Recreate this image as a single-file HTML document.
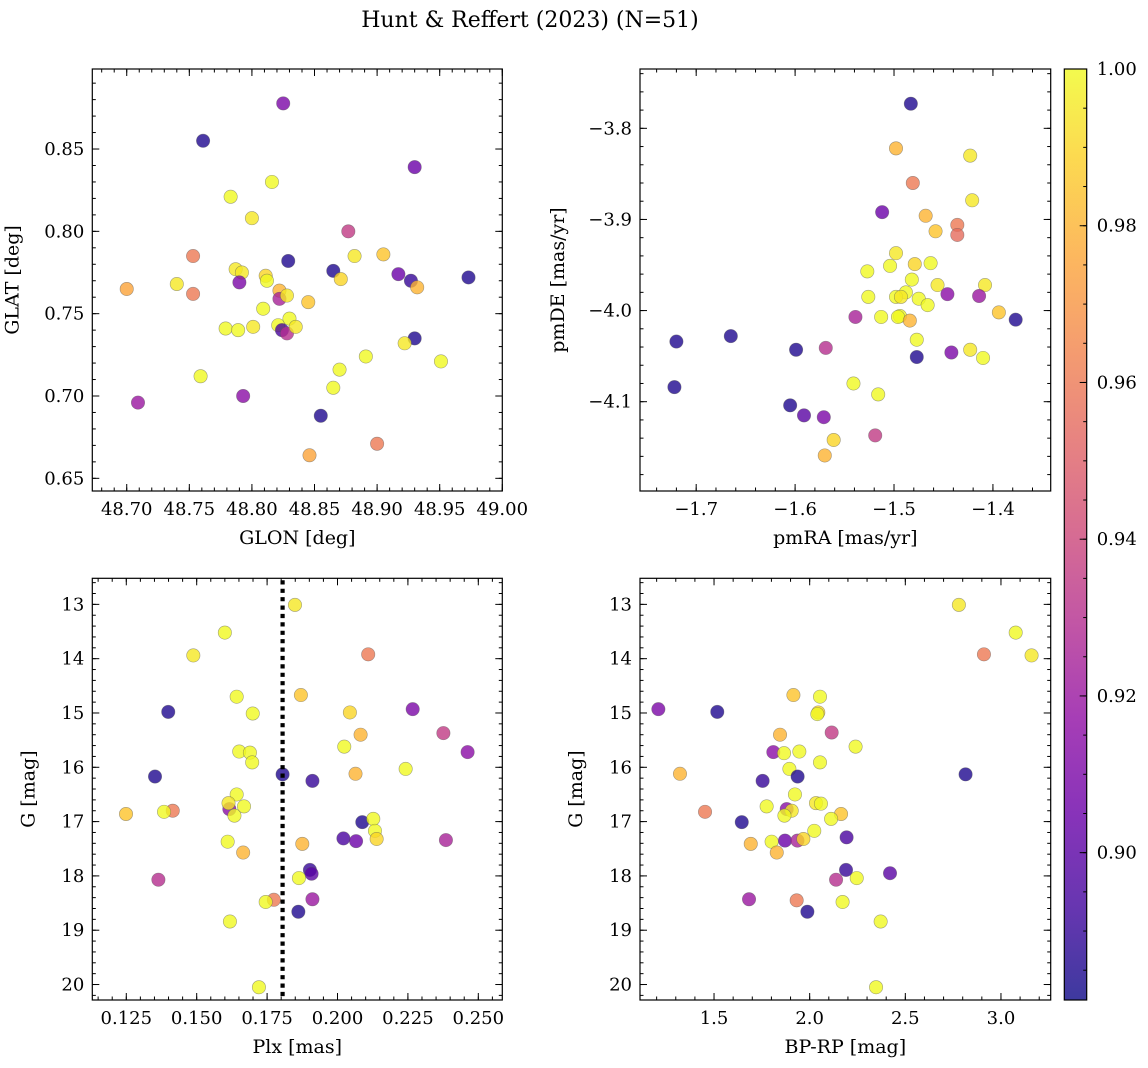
<!DOCTYPE html>
<html><head><meta charset="utf-8"><style>
html,body{margin:0;padding:0;background:#fff;}
svg{display:block;font-family:"DejaVu Serif","Liberation Serif",serif;}
</style></head><body>
<svg id="fig" width="1148" height="1068" viewBox="0 0 1148 1068" xmlns="http://www.w3.org/2000/svg">
<defs>
<linearGradient id="plasma" x1="0" y1="1" x2="0" y2="0">
<stop offset="0" stop-color="#0d0887"/><stop offset="0.1" stop-color="#41049d"/><stop offset="0.2" stop-color="#6a00a8"/><stop offset="0.3" stop-color="#8f0da4"/><stop offset="0.4" stop-color="#b12a90"/><stop offset="0.5" stop-color="#cc4778"/><stop offset="0.6" stop-color="#e16462"/><stop offset="0.7" stop-color="#f2844b"/><stop offset="0.8" stop-color="#fca636"/><stop offset="0.9" stop-color="#fcce25"/><stop offset="1" stop-color="#f0f921"/>
</linearGradient>
</defs>
<text x="530" y="27" text-anchor="middle" font-size="22">Hunt &amp; Reffert (2023) (N=51)</text>
</svg>
<script>
// ---- data (top-left: GLON/GLAT) ----
const glon = [48.825,48.761,48.930,48.816,48.783,48.800,48.877,48.753,48.882,48.905,48.829,48.787,48.792,48.865,48.871,48.917,48.927,48.973,48.700,48.740,48.790,48.811,48.812,48.753,48.822,48.932,48.822,48.828,48.845,48.809,48.779,48.789,48.801,48.821,48.824,48.828,48.830,48.835,48.930,48.922,48.891,48.951,48.870,48.759,48.865,48.709,48.793,48.855,48.900,48.846];
const glat = [0.8777,0.855,0.839,0.830,0.821,0.808,0.800,0.785,0.785,0.786,0.782,0.777,0.775,0.776,0.771,0.774,0.770,0.772,0.765,0.768,0.769,0.773,0.770,0.762,0.764,0.766,0.759,0.761,0.757,0.753,0.741,0.740,0.742,0.743,0.740,0.738,0.747,0.742,0.735,0.732,0.724,0.721,0.716,0.712,0.705,0.696,0.700,0.688,0.671,0.664];
const probA = [0.91,0.885,0.905,1.0,1.0,0.995,0.935,0.96,0.995,0.985,0.885,0.995,0.995,0.885,0.99,0.905,0.89,0.885,0.975,0.995,0.91,0.99,1.0,0.96,0.98,0.98,0.925,0.995,0.985,1.0,1.0,1.0,0.995,1.0,0.895,0.93,1.0,0.995,0.885,0.995,1.0,1.0,1.0,1.0,1.0,0.92,0.915,0.885,0.96,0.975];
// ---- data (top-right: pmRA/pmDE) ----
const pmra = [-1.483,-1.498,-1.423,-1.481,-1.421,-1.512,-1.468,-1.436,-1.436,-1.458,-1.498,-1.504,-1.479,-1.463,-1.527,-1.482,-1.456,-1.408,-1.488,-1.446,-1.414,-1.526,-1.498,-1.493,-1.475,-1.466,-1.394,-1.539,-1.513,-1.494,-1.496,-1.484,-1.377,-1.720,-1.665,-1.477,-1.599,-1.569,-1.423,-1.442,-1.410,-1.477,-1.722,-1.541,-1.516,-1.605,-1.591,-1.571,-1.519,-1.561,-1.570];
const pmde = [-3.773,-3.822,-3.830,-3.860,-3.879,-3.892,-3.896,-3.906,-3.917,-3.913,-3.937,-3.951,-3.949,-3.948,-3.957,-3.966,-3.972,-3.972,-3.980,-3.982,-3.984,-3.985,-3.985,-3.985,-3.987,-3.994,-4.002,-4.007,-4.007,-4.006,-4.007,-4.011,-4.010,-4.034,-4.028,-4.032,-4.043,-4.041,-4.043,-4.046,-4.052,-4.051,-4.084,-4.080,-4.092,-4.104,-4.115,-4.117,-4.137,-4.142,-4.159];
const probB = [0.885,0.98,0.995,0.96,0.995,0.905,0.98,0.96,0.955,0.985,0.995,1.0,0.99,1.0,1.0,1.0,0.995,0.995,1.0,0.915,0.92,1.0,1.0,0.995,1.0,1.0,0.985,0.925,1.0,1.0,1.0,0.98,0.885,0.885,0.885,1.0,0.885,0.93,0.995,0.91,1.0,0.885,0.885,1.0,1.0,0.885,0.9,0.91,0.935,0.99,0.98];
// ---- data (bottom-left: Plx/G) ----
const plx = [0.1849,0.160,0.1488,0.2109,0.1642,0.1870,0.1399,0.1699,0.2044,0.2267,0.2082,0.2376,0.2024,0.2462,0.1651,0.1689,0.1697,0.1352,0.1805,0.1911,0.2064,0.2242,0.1642,0.1616,0.1613,0.1668,0.1634,0.1249,0.1415,0.1384,0.2088,0.2127,0.2133,0.2139,0.2021,0.2066,0.2385,0.1610,0.1875,0.1665,0.1364,0.1902,0.1908,0.1863,0.1911,0.1774,0.1745,0.1861,0.1618,0.1721];
const gmagC = [13.01,13.52,13.94,13.92,14.70,14.67,14.98,15.01,14.99,14.93,15.40,15.37,15.62,15.72,15.71,15.73,15.91,16.17,16.13,16.25,16.12,16.03,16.50,16.77,16.66,16.72,16.89,16.86,16.80,16.82,17.01,16.95,17.17,17.32,17.31,17.36,17.34,17.37,17.41,17.57,18.07,17.89,17.96,18.04,18.43,18.44,18.48,18.66,18.84,20.05];
const probC = [0.995,1.0,0.995,0.96,1.0,0.985,0.885,1.0,0.99,0.91,0.98,0.935,1.0,0.915,1.0,1.0,1.0,0.885,0.885,0.89,0.98,1.0,1.0,0.915,0.995,1.0,1.0,0.985,0.96,1.0,0.885,1.0,1.0,0.99,0.895,0.905,0.925,1.0,0.98,0.98,0.93,0.89,0.9,1.0,0.92,0.96,1.0,0.885,1.0,1.0];
const plxMedian = [0.1805];
// ---- data (bottom-right: BP-RP/G) ----
const bprp = [2.780,3.077,2.911,3.160,1.915,2.054,1.209,1.517,2.045,2.040,1.845,2.115,1.810,1.866,1.946,2.240,2.054,1.322,1.894,1.937,1.754,2.815,1.923,1.775,1.880,1.906,1.868,2.033,2.059,1.453,1.645,2.164,2.112,2.024,1.692,1.801,1.871,1.936,1.967,2.193,1.828,2.190,2.420,2.138,2.246,1.683,1.932,2.172,1.988,2.371,2.347];
const gmagD = [13.01,13.52,13.92,13.94,14.67,14.70,14.93,14.98,14.99,15.02,15.40,15.36,15.72,15.74,15.71,15.62,15.91,16.12,16.03,16.17,16.25,16.13,16.50,16.72,16.77,16.80,16.89,16.66,16.67,16.82,17.01,16.86,16.95,17.17,17.41,17.37,17.35,17.35,17.32,17.29,17.57,17.89,17.95,18.07,18.04,18.43,18.45,18.48,18.66,18.84,20.05];
const probD = [0.995,1.0,0.96,0.995,0.985,1.0,0.91,0.885,0.99,1.0,0.98,0.935,0.915,1.0,1.0,1.0,1.0,0.98,1.0,0.885,0.89,0.885,1.0,1.0,0.915,0.995,1.0,0.995,1.0,0.96,0.885,0.985,1.0,1.0,0.98,1.0,0.905,0.925,0.99,0.895,0.98,0.89,0.9,0.93,1.0,0.92,0.96,1.0,0.885,1.0,1.0];
const cbarTicks = [0.90,0.92,0.94,0.96,0.98,1.00];

const NS='http://www.w3.org/2000/svg';
const svg=document.getElementById('fig');
const VMIN=0.8812, VMAX=1.0;
const stops=[[13,8,135],[65,4,157],[106,0,168],[143,13,164],[177,42,144],[204,71,120],[225,100,98],[242,132,75],[252,166,54],[252,206,37],[240,249,33]];
function plasma(v){let t=(v-VMIN)/(VMAX-VMIN);t=Math.max(0,Math.min(1,t))*10;const i=Math.min(9,Math.floor(t));const f=t-i;const a=stops[i],b=stops[i+1];
return 'rgb('+a.map((c,k)=>Math.round(c+(b[k]-c)*f)).join(',')+')';}
function el(tag,attrs,parent){const e=document.createElementNS(NS,tag);for(const k in attrs)e.setAttribute(k,attrs[k]);(parent||svg).appendChild(e);return e;}
function fmt(v,d){const s=Math.abs(v).toFixed(d);return (v<-1e-9?'\u2212':'')+s;}

function panel(cfg){
  const g=el('g',{});
  
  
  const X=v=>cfg.L+(v-cfg.x0)/(cfg.x1-cfg.x0)*(cfg.R-cfg.L);
  const Y=cfg.invert?(v=>cfg.T+(v-cfg.y0)/(cfg.y1-cfg.y0)*(cfg.B-cfg.T)):(v=>cfg.B-(v-cfg.y0)/(cfg.y1-cfg.y0)*(cfg.B-cfg.T));
  const tg=el('g',{stroke:'#000','stroke-width':1},g);
  const eps=1e-9;
  function ticksRange(a,b,step){const out=[];let s=Math.ceil((Math.min(a,b)-eps)/step);for(let k=s;k*step<=Math.max(a,b)+eps;k++)out.push(+(k*step).toFixed(6));return out;}
  ticksRange(cfg.x0,cfg.x1,cfg.xminor).forEach(v=>{const x=X(v);el('line',{x1:x,x2:x,y1:cfg.B,y2:cfg.B-3.5},tg);el('line',{x1:x,x2:x,y1:cfg.T,y2:cfg.T+3.5},tg);});
  ticksRange(cfg.y0,cfg.y1,cfg.yminor).forEach(v=>{const y=Y(v);el('line',{x1:cfg.L,x2:cfg.L+3.5,y1:y,y2:y},tg);el('line',{x1:cfg.R,x2:cfg.R-3.5,y1:y,y2:y},tg);});
  cfg.xticks.forEach(v=>{const x=X(v);el('line',{x1:x,x2:x,y1:cfg.B,y2:cfg.B-7},tg);el('line',{x1:x,x2:x,y1:cfg.T,y2:cfg.T+7},tg);
    const t=el('text',{x:x,y:cfg.B+24,'text-anchor':'middle','font-size':18},g);t.textContent=fmt(v,cfg.xd);
    
    });
  cfg.yticks.forEach(v=>{const y=Y(v);el('line',{x1:cfg.L,x2:cfg.L+7,y1:y,y2:y},tg);el('line',{x1:cfg.R,x2:cfg.R-7,y1:y,y2:y},tg);
    const t=el('text',{x:cfg.L-8,y:y+6,'text-anchor':'end','font-size':18},g);t.textContent=fmt(v,cfg.yd);
    
    });
  const xl=el('text',{x:(cfg.L+cfg.R)/2,y:cfg.B+53,'text-anchor':'middle','font-size':19},g);xl.textContent=cfg.xlabel;
  
  
  const yx=cfg.L-cfg.ylOff, yy=(cfg.T+cfg.B)/2;
  const yl=el('text',{x:yx,y:yy,'text-anchor':'middle','font-size':19,transform:'rotate(-90 '+yx+' '+yy+')'},g);yl.textContent=cfg.ylabel;
  
  
  const pg=el('g',{},g);
  
  
  if(cfg.vline){cfg.vline.forEach(v=>{const l=el('line',{x1:X(v),x2:X(v),y1:cfg.T+2,y2:cfg.B,stroke:'#000','stroke-width':4.2,'stroke-dasharray':'4.2 4.2'},g);
    
    });}
  cfg.xs.forEach((xv,i)=>{const c=el('circle',{cx:X(xv),cy:Y(cfg.ys[i]),r:6.7,fill:plasma(cfg.cs[i]),'fill-opacity':0.8,stroke:'rgba(90,90,90,0.55)','stroke-width':0.6},pg);
    
    });
  const fr=el('rect',{x:cfg.L,y:cfg.T,width:cfg.R-cfg.L,height:cfg.B-cfg.T,fill:'none',stroke:'#000','stroke-width':1.2},g);
  
  
}
function range(a,b,s){const o=[];for(let v=a;v<=b+1e-9;v+=s)o.push(+v.toFixed(6));return o;}

panel({name:'glon-glat-panel',L:92.3,R:502.3,T:69,B:491,x0:48.6725,x1:49.0,y0:0.6423,y1:0.8986,
  xticks:range(48.70,49.0,0.05),xd:2,xminor:0.01,yticks:range(0.65,0.85,0.05),yd:2,yminor:0.01,
  xlabel:'GLON [deg]',ylabel:'GLAT [deg]',ylOff:74,xs:glon,ys:glat,cs:probA});
panel({name:'proper-motion-panel',L:640,R:1050.7,T:69,B:491,x0:-1.7568,x1:-1.3416,y0:-4.198,y1:-3.7349,
  xticks:[-1.7,-1.6,-1.5,-1.4],xd:1,xminor:0.02,yticks:[-4.1,-4.0,-3.9,-3.8],yd:1,yminor:0.02,
  xlabel:'pmRA [mas/yr]',ylabel:'pmDE [mas/yr]',ylOff:76,xs:pmra,ys:pmde,cs:probB});
panel({name:'parallax-magnitude-panel',L:92.3,R:502.3,T:578.3,B:1000,x0:0.11293,x1:0.25852,y0:12.52,y1:20.285,invert:true,
  xticks:range(0.125,0.25,0.025),xd:3,xminor:0.005,yticks:range(13,20,1),yd:0,yminor:0.2,
  xlabel:'Plx [mas]',ylabel:'G [mag]',ylOff:58,xs:plx,ys:gmagC,cs:probC,vline:plxMedian});
panel({name:'color-magnitude-panel',L:640,R:1050.7,T:578.3,B:1000,x0:1.113,x1:3.260,y0:12.52,y1:20.285,invert:true,
  xticks:[1.5,2.0,2.5,3.0],xd:1,xminor:0.1,yticks:range(13,20,1),yd:0,yminor:0.2,
  xlabel:'BP-RP [mag]',ylabel:'G [mag]',ylOff:58,xs:bprp,ys:gmagD,cs:probD});

(function(){
  const L=1064.3,R=1086.7,T=69,B=1000;
  const g=el('g',{});
  
  
  el('rect',{x:L,y:T,width:R-L,height:B-T,fill:'url(#plasma)','fill-opacity':0.8},g);
  const Yc=v=>B-(v-VMIN)/(VMAX-VMIN)*(B-T);
  for(let v=0.885;v<=1.0001;v+=0.005){const y=Yc(v);el('line',{x1:R,x2:R-3.5,y1:y,y2:y,stroke:'#000','stroke-width':1},g);}
  cbarTicks.forEach(v=>{const y=Yc(v);el('line',{x1:R,x2:R-7,y1:y,y2:y,stroke:'#000','stroke-width':1},g);
    const t=el('text',{x:R+10,y:y+6,'font-size':18},g);t.textContent=v.toFixed(2);
    
    });
  el('rect',{x:L,y:T,width:R-L,height:B-T,fill:'none',stroke:'#000','stroke-width':1.2},g);
})();
</script>
</body></html>
